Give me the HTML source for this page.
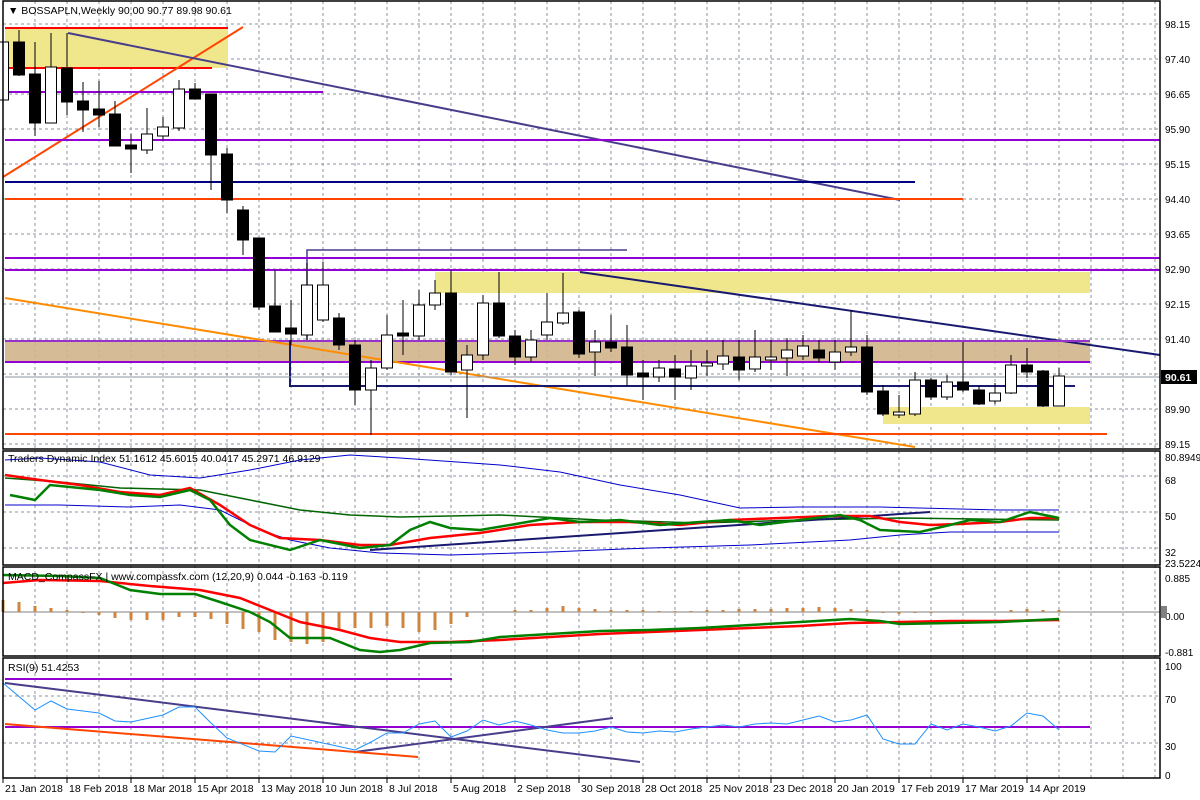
<!DOCTYPE html>
<html><head><meta charset="utf-8"><style>
html,body{margin:0;padding:0;background:#fff;}
svg{display:block;font-family:"Liberation Sans",sans-serif;font-size:10.5px;}
</style></head><body>
<svg id="s" width="1200" height="800" viewBox="0 0 1200 800" xmlns="http://www.w3.org/2000/svg">
<rect width="1200" height="800" fill="#fff"/>
<g id="grid" stroke="#8a94a0" stroke-dasharray="3,3" stroke-width="1"></g>
<rect x="5" y="28" width="223" height="40" fill="#f0e68c"/>
<rect x="435" y="272" width="655" height="21" fill="#f0e68c"/>
<rect x="883" y="407" width="207" height="17" fill="#f0e68c"/>
<rect x="5" y="341" width="1085" height="21" fill="#d2b48c" opacity="0.9"/>
<line x1="5" y1="28" x2="228" y2="28" stroke="#ff0000" stroke-width="2"/>
<line x1="5" y1="68" x2="212" y2="68" stroke="#ff0000" stroke-width="2"/>
<line x1="3" y1="177" x2="243" y2="27" stroke="#ff4500" stroke-width="2"/>
<line x1="5" y1="92" x2="323" y2="92" stroke="#9400d3" stroke-width="2"/>
<line x1="68" y1="33" x2="900" y2="200" stroke="#483d8b" stroke-width="2"/>
<line x1="5" y1="140" x2="1160" y2="140" stroke="#9400d3" stroke-width="2"/>
<line x1="5" y1="182" x2="915" y2="182" stroke="#000080" stroke-width="2"/>
<line x1="5" y1="199" x2="963" y2="199" stroke="#ff4500" stroke-width="2"/>
<polyline points="307,340 307,250 627,250" fill="none" stroke="#483d8b" stroke-width="1.5"/>
<line x1="5" y1="258" x2="1160" y2="258" stroke="#9400d3" stroke-width="2"/>
<line x1="5" y1="270" x2="1160" y2="270" stroke="#9400d3" stroke-width="2"/>
<line x1="580" y1="272" x2="1160" y2="355" stroke="#191970" stroke-width="2"/>
<line x1="5" y1="341" x2="1090" y2="341" stroke="#9932cc" stroke-width="2"/>
<line x1="5" y1="362" x2="1090" y2="362" stroke="#9400d3" stroke-width="2"/>
<line x1="5" y1="298" x2="915" y2="447" stroke="#ff8c00" stroke-width="2"/>
<polyline points="290,340 290,386 1075,386" fill="none" stroke="#191970" stroke-width="2"/>
<line x1="5" y1="434" x2="1107" y2="434" stroke="#ff4500" stroke-width="2"/>
<line x1="5" y1="377" x2="1160" y2="377" stroke="#8a94a0" stroke-width="1"/>
<g id="candles"></g>
<polyline fill="none" stroke="#0000cd" stroke-width="1" points="5,460 40,458 100,462 150,475 200,478 250,470 300,460 350,455 400,458 500,465 560,472 620,485 680,495 740,508 800,507 880,507 1000,510 1059,510"/>
<polyline fill="none" stroke="#0000cd" stroke-width="1" points="5,505 60,505 130,507 180,505 220,510 260,530 290,540 330,548 380,553 450,555 550,552 650,548 750,545 850,540 900,535 950,532 1059,532"/>
<polyline fill="none" stroke="#006400" stroke-width="1.5" points="5,478 60,482 120,488 200,490 250,500 300,510 350,515 400,517 500,515 600,520 700,523 800,520 900,518 1059,520"/>
<line x1="370" y1="550" x2="930" y2="512" stroke="#191970" stroke-width="2"/>
<polyline fill="none" stroke="#ff0000" stroke-width="2.5" points="5,475 40,480 80,485 120,492 160,495 190,488 220,505 250,525 280,538 320,540 360,545 390,545 430,538 480,533 530,525 580,522 630,522 680,525 730,520 780,518 830,516 870,516 900,522 930,525 960,524 1000,522 1030,518 1059,518"/>
<polyline fill="none" stroke="#008000" stroke-width="2.5" points="10,495 35,500 50,485 70,487 100,490 130,495 160,497 190,490 210,500 230,525 250,540 290,550 320,540 360,548 390,545 410,530 430,522 450,528 480,530 510,525 550,518 580,522 620,520 660,525 700,522 730,520 760,525 800,520 840,515 860,520 880,530 920,532 950,525 970,520 1000,522 1030,512 1059,518"/>
<line x1="3" y1="612" x2="1160" y2="612" stroke="#808080" stroke-width="1"/>
<g id="hist" fill="#cd853f"></g>
<polyline fill="none" stroke="#ff0000" stroke-width="2.5" points="3,583 40,580 100,581 150,586 200,590 240,598 270,610 300,622 340,630 370,638 400,642 450,642 500,640 550,637 600,634 650,632 700,630 750,628 800,626 850,623 900,622 950,621 1000,621 1059,620"/>
<polyline fill="none" stroke="#008000" stroke-width="2.5" points="3,575 60,576 100,578 130,590 160,594 195,594 220,602 250,612 270,622 290,638 330,638 360,650 380,652 400,650 430,643 470,642 500,637 550,634 600,631 650,630 700,628 750,625 800,622 850,619 880,621 900,624 1000,622 1059,619"/>
<line x1="5" y1="679" x2="452" y2="679" stroke="#9400d3" stroke-width="2"/>
<line x1="5" y1="727" x2="1090" y2="727" stroke="#9400d3" stroke-width="2"/>
<line x1="5" y1="683" x2="640" y2="762" stroke="#483d8b" stroke-width="2"/>
<line x1="355" y1="752" x2="613" y2="718" stroke="#483d8b" stroke-width="2"/>
<line x1="5" y1="724" x2="418" y2="757" stroke="#ff4500" stroke-width="2"/>
<polyline fill="none" stroke="#1e90ff" stroke-width="1" points="3,683 35,710 51,701 67,709 99,713 115,721 131,722 163,715 179,707 195,707 211,723 227,738 259,751 275,752 291,736 323,743 355,750 371,742 387,733 403,733 419,724 435,721 451,737 467,731 483,720 499,725 515,721 531,725 547,730 563,733 579,733 595,731 611,727 627,732 643,733 659,731 675,732 691,729 707,727 723,725 739,727 755,724 771,723 787,724 803,720 819,716 835,722 851,720 867,715 883,739 899,744 915,744 931,724 947,730 963,724 979,727 995,731 1011,726 1027,713 1043,716 1059,730"/>
<g fill="none" stroke="#000" stroke-width="1.5">
<rect x="3" y="1" width="1157" height="448"/>
<rect x="3" y="451" width="1157" height="114"/>
<rect x="3" y="567" width="1157" height="89"/>
<rect x="3" y="658" width="1157" height="120"/>
</g>
<g fill="#000">
<text x="8" y="14">▼ BOSSAPLN,Weekly  90.00 90.77 89.98 90.61</text>
<text x="8" y="462">Traders Dynamic Index 51.1612 45.6015 40.0417 45.2971 46.9129</text>
<text x="8" y="580">MACD_CompassFX | www.compassfx.com  (12,20,9) 0.044 -0.163 -0.119</text>
<text x="8" y="671">RSI(9) 51.4253</text>
</g>
<g id="axis" fill="#000"></g>
<rect x="1161" y="370" width="36" height="14" fill="#000"/>
<text x="1165" y="381" fill="#fff" font-weight="bold">90.61</text>
<rect x="1161" y="606" width="6" height="12" fill="#808080"/>
</svg>
<script>
var NS="http://www.w3.org/2000/svg";
function el(p,t,a,txt){var e=document.createElementNS(NS,t);for(var k in a)e.setAttribute(k,a[k]);if(txt)e.textContent=txt;document.getElementById(p).appendChild(e);}
var hy=[24,59,94,129,164,199,234,269,304,339,374,409,444,476,512,548,696,743];
hy.forEach(function(y){el('grid','line',{x1:3,y1:y,x2:1160,y2:y});});
for(var x=35;x<1160;x+=32){el('grid','line',{x1:x,y1:1,x2:x,y2:778});}
var C=[[100,42,25,105],[42,75,30,76],[74,123,42,136],[123,67,33,123],[68,102,33,115],[101,110,82,132],[109,115,81,127],[114,146,101,146],[145,149,134,173],[150,134,108,154],[136,127,117,140],[128,89,80,131],[89,99,83,99],[94,155,94,190],[154,200,148,213],[210,240,206,255],[238,307,238,310],[306,332,270,332],[328,334,300,345],[335,285,263,340],[320,285,262,322],[318,345,313,350],[345,390,340,405],[390,368,360,435],[368,335,315,370],[333,336,300,355],[336,305,290,340],[305,293,280,310],[293,372,270,375],[370,355,345,418],[355,303,295,360],[303,336,272,338],[336,357,330,365],[357,340,330,362],[335,322,293,340],[323,313,273,325],[312,354,310,358],[352,342,330,376],[342,348,315,352],[347,375,325,386],[373,377,360,400],[377,368,360,382],[369,377,355,400],[378,366,350,390],[366,363,350,376],[364,356,340,370],[357,370,340,380],[369,357,330,372],[360,357,340,370],[358,350,338,376],[356,346,335,360],[350,358,340,362],[362,352,340,370],[352,347,310,356],[347,392,335,395],[391,414,385,416],[415,412,395,418],[414,380,372,416],[380,397,378,400],[397,382,375,400],[382,390,342,392],[390,404,386,405],[401,393,383,404],[393,365,355,394],[365,372,348,378],[371,406,370,407],[406,376,368,406]];
C.forEach(function(c,i){var x=3+16*i,o=c[0],cl=c[1],t=Math.min(o,cl),b=Math.max(o,cl),bear=cl>o;
el('candles','line',{x1:x,y1:c[2],x2:x,y2:c[3],stroke:'#000','stroke-width':1});
el('candles','rect',{x:x-5.5,y:t,width:11,height:Math.max(b-t,1),fill:bear?'#000':'#fff',stroke:'#000','stroke-width':1});
var h=[-12,-10,-6,-4,-2,1,3,6,8,8,8,5,5,7,12,17,20,28,30,32,30,18,16,16,14,16,20,18,12,5,0,0,-2,-2,-4,-6,-4,-3,-2,-2,-2,-1,-1,-1,-2,-2,-3,-3,-3,-4,-4,-5,-4,-3,-2,1,2,1,1,0,0,0,0,-2,-3,-2,-2][i]||0;
if(i<60||i>61)el('hist','rect',{x:x-1.5,y:h>=0?612:612+h,width:3,height:Math.abs(h)});
});
var pl=[["98.15",24],["97.40",59],["96.65",94],["95.90",129],["95.15",164],["94.40",199],["93.65",234],["92.90",269],["92.15",304],["91.40",339],["89.90",409],["89.15",444],["80.8949",457],["68",480],["50",516],["32",552],["23.5224",563],["0.885",578],["0.00",616],["-0.881",652],["100",666],["70",699],["30",746],["0",775]];
pl.forEach(function(p){el('axis','text',{x:1165,y:p[1]+4,'font-size':'10px'},p[0]);});
var dl=["21 Jan 2018","18 Feb 2018","18 Mar 2018","15 Apr 2018","13 May 2018","10 Jun 2018","8 Jul 2018","5 Aug 2018","2 Sep 2018","30 Sep 2018","28 Oct 2018","25 Nov 2018","23 Dec 2018","20 Jan 2019","17 Feb 2019","17 Mar 2019","14 Apr 2019"];
dl.forEach(function(d,i){var x=3+64*i;el('axis','line',{x1:x,y1:778,x2:x,y2:783,stroke:'#000'});el('axis','text',{x:x+2,y:792},d);});
</script>
</body></html>
